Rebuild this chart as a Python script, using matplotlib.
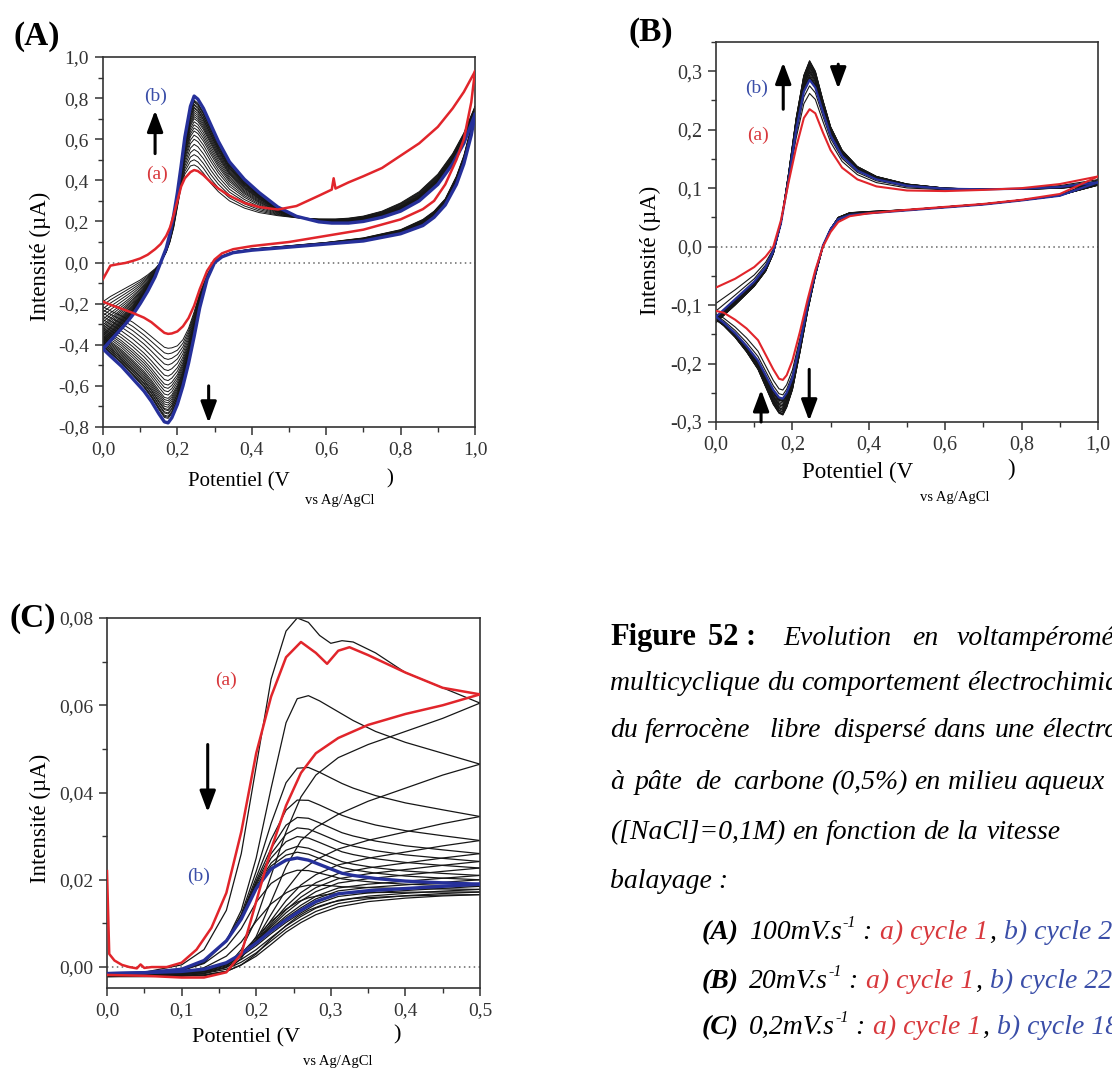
import numpy as np
import matplotlib.pyplot as plt
from matplotlib.ticker import MultipleLocator, FuncFormatter

W, H = 1112, 1072
plt.rcParams['font.family'] = ['Liberation Serif', 'DejaVu Serif']

RED = '#e1252b'
BLUE = '#26309a'
TXT_RED = '#d8383c'
TXT_BLUE = '#3a4ea8'
BLACK = '#161616'

# ── Panel A : 100 mV/s ────────────────────────────────────────────────────────
a_fwd_v = [0.0, 0.02, 0.04, 0.06, 0.08, 0.10, 0.12, 0.14, 0.155, 0.17, 0.18, 0.19, 0.20,
           0.21, 0.22, 0.235, 0.245, 0.255, 0.27, 0.29, 0.31, 0.34, 0.38, 0.42, 0.47,
           0.52, 0.58, 0.615, 0.62, 0.625, 0.66, 0.70, 0.75, 0.80, 0.85, 0.90, 0.94, 0.97, 1.0]
a_red_fwd = [-0.08, -0.015, -0.008, -0.002, 0.008, 0.02, 0.038, 0.065, 0.09, 0.13, 0.17, 0.23,
             0.30, 0.37, 0.41, 0.44, 0.45, 0.445, 0.425, 0.39, 0.36, 0.325, 0.29, 0.27, 0.258,
             0.275, 0.325, 0.355, 0.41, 0.36, 0.39, 0.42, 0.46, 0.52, 0.58, 0.66, 0.75, 0.83, 0.93]
a_c2_fwd = [-0.19, -0.165, -0.145, -0.125, -0.105, -0.085, -0.06, -0.03, 0.0, 0.05, 0.10, 0.17,
            0.27, 0.37, 0.43, 0.47, 0.475, 0.465, 0.435, 0.385, 0.345, 0.30, 0.265, 0.243, 0.228,
            0.218, 0.212, 0.212, 0.212, 0.212, 0.216, 0.226, 0.25, 0.29, 0.345, 0.43, 0.53, 0.63, 0.76]
a_blue_fwd = [-0.42, -0.38, -0.34, -0.30, -0.255, -0.20, -0.14, -0.07, 0.0, 0.07, 0.14, 0.23,
              0.34, 0.47, 0.61, 0.76, 0.81, 0.795, 0.75, 0.67, 0.59, 0.49, 0.405, 0.34, 0.27,
              0.225, 0.198, 0.192, 0.192, 0.192, 0.192, 0.20, 0.22, 0.25, 0.30, 0.38, 0.48, 0.58, 0.72]

a_rev_v = [1.0, 0.99, 0.97, 0.95, 0.92, 0.89, 0.86, 0.80, 0.70, 0.60, 0.50, 0.40, 0.35, 0.32,
           0.30, 0.28, 0.26, 0.245, 0.23, 0.215, 0.20, 0.185, 0.175, 0.165, 0.15, 0.13, 0.11,
           0.08, 0.05, 0.02, 0.0]
a_red_rev = [0.93, 0.78, 0.60, 0.50, 0.38, 0.30, 0.26, 0.21, 0.16, 0.13, 0.10, 0.08, 0.065, 0.045,
             0.015, -0.04, -0.13, -0.21, -0.27, -0.31, -0.335, -0.345, -0.347, -0.342, -0.32,
             -0.29, -0.268, -0.245, -0.225, -0.205, -0.19]
a_c2_rev = [0.76, 0.66, 0.52, 0.42, 0.31, 0.25, 0.21, 0.16, 0.12, 0.098, 0.082, 0.066, 0.052,
            0.032, 0.005, -0.06, -0.15, -0.24, -0.32, -0.375, -0.405, -0.415, -0.417, -0.412,
            -0.39, -0.36, -0.33, -0.29, -0.26, -0.235, -0.215]
a_blue_rev = [0.72, 0.62, 0.48, 0.38, 0.28, 0.22, 0.18, 0.14, 0.105, 0.09, 0.075, 0.06, 0.048,
              0.028, 0.0, -0.08, -0.22, -0.36, -0.49, -0.60, -0.69, -0.755, -0.78, -0.775,
              -0.735, -0.675, -0.625, -0.565, -0.505, -0.455, -0.42]
# anodic peak current of each intermediate (black) cycle
a_peaks = [0.475, 0.50, 0.525, 0.55, 0.575, 0.60, 0.62, 0.64, 0.655, 0.67, 0.685, 0.70,
           0.71, 0.72, 0.73, 0.74, 0.75, 0.755, 0.765, 0.77, 0.78, 0.785, 0.79]

# ── Panel B : 20 mV/s ─────────────────────────────────────────────────────────
b_fwd_v = [0.0, 0.05, 0.10, 0.13, 0.15, 0.17, 0.19, 0.21, 0.23, 0.245, 0.26, 0.28, 0.30, 0.33,
           0.37, 0.42, 0.50, 0.60, 0.70, 0.80, 0.90, 1.0]
b_red_fwd = [-0.07, -0.055, -0.035, -0.017, 0.0, 0.045, 0.11, 0.17, 0.22, 0.235, 0.228, 0.195,
             0.165, 0.135, 0.115, 0.103, 0.096, 0.095, 0.097, 0.10, 0.107, 0.12]
b_blue_fwd = [-0.12, -0.09, -0.06, -0.035, -0.008, 0.04, 0.115, 0.20, 0.265, 0.285, 0.272, 0.23,
              0.19, 0.155, 0.13, 0.115, 0.104, 0.099, 0.098, 0.099, 0.102, 0.11]
b_max_fwd = [-0.13, -0.10, -0.068, -0.042, -0.012, 0.04, 0.125, 0.22, 0.293, 0.318, 0.30, 0.25,
             0.205, 0.165, 0.137, 0.12, 0.107, 0.10, 0.098, 0.098, 0.10, 0.105]
b_rev_v = [1.0, 0.90, 0.80, 0.70, 0.60, 0.50, 0.40, 0.35, 0.32, 0.30, 0.28, 0.26, 0.24, 0.22,
           0.20, 0.185, 0.175, 0.165, 0.15, 0.13, 0.11, 0.08, 0.05, 0.02, 0.0]
b_red_rev = [0.12, 0.09, 0.08, 0.073, 0.068, 0.063, 0.057, 0.052, 0.042, 0.025, 0.0, -0.04,
             -0.09, -0.145, -0.195, -0.22, -0.228, -0.226, -0.21, -0.185, -0.16, -0.14, -0.125,
             -0.113, -0.11]
b_blue_rev = [0.11, 0.087, 0.079, 0.072, 0.067, 0.062, 0.057, 0.054, 0.047, 0.03, 0.002, -0.045,
              -0.10, -0.165, -0.225, -0.25, -0.26, -0.258, -0.245, -0.22, -0.195, -0.17,
              -0.148, -0.13, -0.12]
b_max_rev = [0.105, 0.088, 0.08, 0.073, 0.068, 0.063, 0.06, 0.058, 0.05, 0.03, 0.0, -0.05, -0.11,
             -0.18, -0.245, -0.275, -0.288, -0.285, -0.27, -0.24, -0.21, -0.18, -0.155, -0.135,
             -0.125]
b_peaks = [0.262, 0.275, 0.29, 0.30, 0.307, 0.312, 0.316, 0.318, 0.317, 0.315, 0.312, 0.309,
           0.306, 0.303, 0.30, 0.297, 0.294, 0.291, 0.289, 0.287]

# ── Panel C : 0.2 mV/s ────────────────────────────────────────────────────────
c_red_v = [0.0, 0.003, 0.01, 0.02, 0.03, 0.04, 0.045, 0.05, 0.06, 0.08, 0.10, 0.12, 0.14, 0.16,
           0.18, 0.20, 0.22, 0.24, 0.26, 0.28, 0.295, 0.31, 0.325, 0.35, 0.40, 0.45, 0.50]
c_red_fwd = [0.022, 0.003, 0.0015, 0.0005, 0.0, -0.0003, 0.0006, -0.0002, 0.0, 0.0, 0.001,
             0.004, 0.009, 0.017, 0.031, 0.049, 0.062, 0.071, 0.0745, 0.072, 0.0695, 0.0725,
             0.0733, 0.0715, 0.0675, 0.064, 0.0625]
c_fwd_v = [0.0, 0.05, 0.10, 0.13, 0.16, 0.18, 0.20, 0.22, 0.24, 0.255, 0.27, 0.285, 0.30, 0.315,
           0.33, 0.36, 0.40, 0.45, 0.50]
c_c2_fwd = [-0.0015, -0.0012, 0.0005, 0.004, 0.013, 0.026, 0.046, 0.066, 0.077, 0.080, 0.079,
            0.076, 0.0742, 0.0748, 0.0745, 0.072, 0.0675, 0.064, 0.0605]
c_c3_fwd = [-0.0015, -0.0015, -0.0008, 0.001, 0.006, 0.013, 0.025, 0.041, 0.056, 0.0615, 0.0622,
            0.061, 0.0595, 0.058, 0.0565, 0.054, 0.0515, 0.049, 0.0465]
c_blue_fwd = [-0.0015, -0.0013, -0.0005, 0.0015, 0.006, 0.011, 0.018, 0.0225, 0.0245, 0.025,
              0.0245, 0.0235, 0.0225, 0.0215, 0.021, 0.0203, 0.0197, 0.0193, 0.019]
c_bot_fwd = [-0.0022, -0.002, -0.002, -0.0018, -0.001, 0.0005, 0.003, 0.0065, 0.0095, 0.0115,
             0.013, 0.014, 0.0148, 0.0153, 0.0157, 0.016, 0.0163, 0.0165, 0.0166]
c_rev_v = [0.50, 0.45, 0.40, 0.35, 0.31, 0.28, 0.26, 0.24, 0.22, 0.20, 0.18, 0.16, 0.13, 0.10,
           0.05, 0.0]
c_red_rev = [0.0625, 0.060, 0.058, 0.0555, 0.0525, 0.049, 0.0445, 0.037, 0.027, 0.015, 0.003,
             -0.0012, -0.0024, -0.0024, -0.002, -0.0018]
c_c2_rev = [0.0605, 0.057, 0.054, 0.051, 0.048, 0.044, 0.039, 0.031, 0.021, 0.011, 0.004, 0.0,
            -0.0015, -0.002, -0.002, -0.002]
c_c3_rev = [0.0465, 0.044, 0.041, 0.038, 0.035, 0.032, 0.029, 0.023, 0.015, 0.007, 0.002,
            -0.001, -0.002, -0.002, -0.002, -0.002]
c_blue_rev = [0.019, 0.0185, 0.018, 0.0175, 0.0168, 0.015, 0.013, 0.0108, 0.0083, 0.0055, 0.003,
              0.001, -0.0005, -0.001, -0.0013, -0.0015]
c_bot_rev = [0.0166, 0.0163, 0.0158, 0.015, 0.0138, 0.012, 0.0102, 0.008, 0.0052, 0.0025,
             0.0005, -0.001, -0.0018, -0.002, -0.0022, -0.0022]
# current at 0.5 V of the other black cycles
c_ends_mid = [0.0345, 0.029, 0.026, 0.0242, 0.0227, 0.021, 0.020]
c_ends_low = [0.0185, 0.0178, 0.0172]


def mix(a, b, w):
    a = np.asarray(a, float)
    return a + w * (np.asarray(b, float) - a)


def peak(v, i, vmax=0.5):
    return max(c for x, c in zip(v, i) if x < vmax)


def comma(nd):
    def f(v, pos):
        if abs(v) < 1e-9:
            v = 0.0
        return f'{v:.{nd}f}'.replace('.', ',')
    return FuncFormatter(f)


def style(ax, xlim, ylim, xmaj, ymaj, xnd, ynd, lsize=14):
    ax.set_xlim(*xlim)
    ax.set_ylim(*ylim)
    ax.xaxis.set_major_locator(MultipleLocator(xmaj))
    ax.xaxis.set_minor_locator(MultipleLocator(xmaj / 2))
    ax.yaxis.set_major_locator(MultipleLocator(ymaj))
    ax.yaxis.set_minor_locator(MultipleLocator(ymaj / 2))
    ax.xaxis.set_major_formatter(comma(xnd))
    ax.yaxis.set_major_formatter(comma(ynd))
    ax.tick_params(which='major', direction='out', length=6, width=1.1, labelsize=lsize,
                   colors='#333333', pad=4)
    ax.tick_params(which='minor', direction='out', length=3.5, width=1.0, colors='#333333')
    for s in ax.spines.values():
        s.set_linewidth(1.2)
        s.set_color('#333333')
    ax.axhline(0, color='#666666', ls=(0, (1, 2.2)), lw=1.1, zorder=1)


def arrow(ax, x, y0, y1):
    ax.annotate('', xy=(x, y1), xytext=(x, y0),
                arrowprops=dict(arrowstyle='-|>,head_width=0.3,head_length=0.8',
                                color='black', lw=2.2, shrinkA=0, shrinkB=0,
                                mutation_scale=16), zorder=6)


def xlabel(x0, y0, xp, xs, ys, size=15):
    fig.text(x0 / W, 1 - y0 / H, 'Potentiel (V', fontsize=size, ha='left', va='center')
    fig.text(xp / W, 1 - (y0 - 3) / H, ')', fontsize=size, ha='left', va='center')
    fig.text(xs / W, 1 - ys / H, 'vs Ag/AgCl', fontsize=10.5, ha='left', va='center')


def ylabel(x, y, size=16.5):
    fig.text(x / W, 1 - y / H, 'Intensité (µA)', fontsize=size, rotation=90,
             ha='center', va='center')


fig = plt.figure(figsize=(W / 100, H / 100), dpi=100)

# ── (A) ───────────────────────────────────────────────────────────────────────
axA = fig.add_axes([103 / W, 1 - 427 / H, 372 / W, 370 / H])
style(axA, (0, 1.0), (-0.8, 1.0), 0.2, 0.2, 1, 1)
pa_c2 = peak(a_fwd_v, a_c2_fwd)
pa_bl = peak(a_fwd_v, a_blue_fwd)
for p in a_peaks:
    w = (p - pa_c2) / (pa_bl - pa_c2)
    axA.plot(a_fwd_v, mix(a_c2_fwd, a_blue_fwd, w), color=BLACK, lw=0.7, zorder=2)
    axA.plot(a_rev_v, mix(a_c2_rev, a_blue_rev, w), color=BLACK, lw=0.7, zorder=2)
axA.plot(a_fwd_v, a_blue_fwd, color=BLUE, lw=2.4, zorder=3)
axA.plot(a_rev_v, a_blue_rev, color=BLUE, lw=2.4, zorder=3)
axA.plot(a_fwd_v, a_red_fwd, color=RED, lw=1.8, zorder=4)
axA.plot(a_rev_v, a_red_rev, color=RED, lw=1.8, zorder=4)
axA.text(0.14, 0.81, '(b)', color=TXT_BLUE, fontsize=14, ha='center', va='center')
axA.text(0.145, 0.43, '(a)', color=TXT_RED, fontsize=14, ha='center', va='center')
arrow(axA, 0.14, 0.53, 0.74)
arrow(axA, 0.284, -0.60, -0.78)
fig.text(37 / W, 1 - 36 / H, '(A)', fontsize=24, fontweight='bold', ha='center', va='center')
ylabel(40, 256)
xlabel(188, 482, 386, 305, 500)

# ── (B) ───────────────────────────────────────────────────────────────────────
axB = fig.add_axes([716 / W, 1 - 422 / H, 382 / W, 380 / H])
style(axB, (0, 1.0), (-0.3, 0.35), 0.2, 0.1, 1, 1, lsize=14.5)
pb_red = peak(b_fwd_v, b_red_fwd)
pb_bl = peak(b_fwd_v, b_blue_fwd)
pb_mx = peak(b_fwd_v, b_max_fwd)
for p in b_peaks:
    if p <= pb_bl:
        w = (p - pb_red) / (pb_bl - pb_red)
        fwd, rev = mix(b_red_fwd, b_blue_fwd, w), mix(b_red_rev, b_blue_rev, w)
    else:
        w = (p - pb_bl) / (pb_mx - pb_bl)
        fwd, rev = mix(b_blue_fwd, b_max_fwd, w), mix(b_blue_rev, b_max_rev, w)
    axB.plot(b_fwd_v, fwd, color=BLACK, lw=0.8, zorder=2)
    axB.plot(b_rev_v, rev, color=BLACK, lw=0.8, zorder=2)
axB.plot(b_fwd_v, b_blue_fwd, color=BLUE, lw=1.6, zorder=3)
axB.plot(b_rev_v, b_blue_rev, color=BLUE, lw=1.6, zorder=3)
axB.plot(b_fwd_v, b_red_fwd, color=RED, lw=1.5, zorder=4)
axB.plot(b_rev_v, b_red_rev, color=RED, lw=1.5, zorder=4)
axB.text(0.105, 0.27, '(b)', color=TXT_BLUE, fontsize=14, ha='center', va='center')
axB.text(0.11, 0.19, '(a)', color=TXT_RED, fontsize=14, ha='center', va='center')
arrow(axB, 0.176, 0.235, 0.315)
arrow(axB, 0.32, 0.312, 0.27)
arrow(axB, 0.118, -0.30, -0.245)
arrow(axB, 0.244, -0.21, -0.298)
fig.text(651 / W, 1 - 32 / H, '(B)', fontsize=24, fontweight='bold', ha='center', va='center')
ylabel(650, 250)
xlabel(802, 472, 1007, 920, 498, size=16.5)

# ── (C) ───────────────────────────────────────────────────────────────────────
axC = fig.add_axes([107 / W, 1 - 988 / H, 373 / W, 370 / H])
style(axC, (0, 0.5), (-0.0048, 0.08), 0.1, 0.02, 1, 2)
e3, eb, el = c_c3_fwd[-1], c_blue_fwd[-1], c_bot_fwd[-1]
axC.plot(c_fwd_v, c_c2_fwd, color=BLACK, lw=0.9, zorder=2)
axC.plot(c_rev_v, c_c2_rev, color=BLACK, lw=0.9, zorder=2)
axC.plot(c_fwd_v, c_c3_fwd, color=BLACK, lw=0.9, zorder=2)
axC.plot(c_rev_v, c_c3_rev, color=BLACK, lw=0.9, zorder=2)
for e in c_ends_mid:
    w = (e3 - e) / (e3 - eb)
    axC.plot(c_fwd_v, mix(c_c3_fwd, c_blue_fwd, w), color=BLACK, lw=0.9, zorder=2)
    axC.plot(c_rev_v, mix(c_c3_rev, c_blue_rev, w), color=BLACK, lw=0.9, zorder=2)
for e in c_ends_low:
    w = (eb - e) / (eb - el)
    axC.plot(c_fwd_v, mix(c_blue_fwd, c_bot_fwd, w), color=BLACK, lw=0.9, zorder=2)
    axC.plot(c_rev_v, mix(c_blue_rev, c_bot_rev, w), color=BLACK, lw=0.9, zorder=2)
axC.plot(c_fwd_v, c_bot_fwd, color=BLACK, lw=0.9, zorder=2)
axC.plot(c_rev_v, c_bot_rev, color=BLACK, lw=0.9, zorder=2)
axC.plot(c_fwd_v, c_blue_fwd, color=BLUE, lw=2.4, zorder=3)
axC.plot(c_rev_v, c_blue_rev, color=BLUE, lw=2.4, zorder=3)
axC.plot(c_red_v, c_red_fwd, color=RED, lw=1.8, zorder=4)
axC.plot(c_rev_v, c_red_rev, color=RED, lw=1.8, zorder=4)
axC.text(0.16, 0.0658, '(a)', color=TXT_RED, fontsize=14, ha='center', va='center')
axC.text(0.123, 0.0208, '(b)', color=TXT_BLUE, fontsize=14, ha='center', va='center')
arrow(axC, 0.135, 0.051, 0.0355)
fig.text(33 / W, 1 - 618 / H, '(C)', fontsize=24, fontweight='bold', ha='center', va='center')
ylabel(40, 818)
xlabel(192, 1038, 393, 303, 1062, size=16)

# ── Caption ───────────────────────────────────────────────────────────────────
BODY = 20
LIST = 20
STY = {'b': dict(fontweight='bold'), 'i': dict(fontstyle='italic'),
       'bi': dict(fontweight='bold', fontstyle='italic')}
renderer = fig.canvas.get_renderer()


def place(x, yb, t, size, style, color='black', min_x=0):
    # put a word at x (or right after the previous one if that would overlap)
    x = max(x, min_x)
    txt = fig.text(x / W, 1 - yb / H, t, fontsize=size, color=color, va='baseline',
                   ha='left', **STY[style])
    return x + txt.get_window_extent(renderer=renderer).width


caption = [
    (645, [(610, 'Figure', 'b'), (708, '52 :', 'b'), (783, 'Evolution', 'i'), (912, 'en', 'i'),
           (957, 'voltampérométrie', 'i')]),
    (690, [(610, 'multicyclique', 'i'), (757, 'du', 'i'), (793, 'comportement', 'i'),
           (948, 'électrochimique', 'i')]),
    (737, [(610, 'du', 'i'), (643, 'ferrocène', 'i'), (770, 'libre', 'i'), (833, 'dispersé', 'i'),
           (933, 'dans', 'i'), (995, 'une', 'i'), (1040, 'électrode', 'i')]),
    (789, [(610, 'à', 'i'), (635, 'pâte', 'i'), (695, 'de', 'i'), (733, 'carbone', 'i'),
           (820, '(0,5%)', 'i'), (905, 'en', 'i'), (948, 'milieu', 'i'), (1022, 'aqueux', 'i')]),
    (839, [(610, '([NaCl]=0,1M)', 'i'), (747, 'en', 'i'), (797, 'fonction', 'i'), (907, 'de', 'i'),
           (950, 'la', 'i'), (987, 'vitesse', 'i')]),
    (888, [(610, 'balayage :', 'i')]),
]
for yb, words in caption:
    end = 0
    for x, t, s in words:
        end = place(x, yb, t, 22 if s == 'b' else BODY, s, min_x=end + 7)

speeds = [('(A)', '100mV.s', 'cycle 25', 939), ('(B)', '20mV.s', 'cycle 22', 988),
          ('(C)', '0,2mV.s', 'cycle 18', 1034)]
for lab, sp, last, yb in speeds:
    end = place(702, yb, lab, LIST, 'bi')
    end = place(end + 10, yb, sp, LIST, 'i')
    end = place(end + 1, yb - 12, '-1', LIST * 0.58, 'i')
    end = place(end + 6, yb, ':', LIST, 'i')
    end = place(end + 8, yb, 'a) cycle 1', LIST, 'i', TXT_RED)
    end = place(end + 1, yb, ',', LIST, 'i')
    place(end + 8, yb, 'b) ' + last, LIST, 'i', TXT_BLUE)

fig.savefig('out.png', dpi=100)
